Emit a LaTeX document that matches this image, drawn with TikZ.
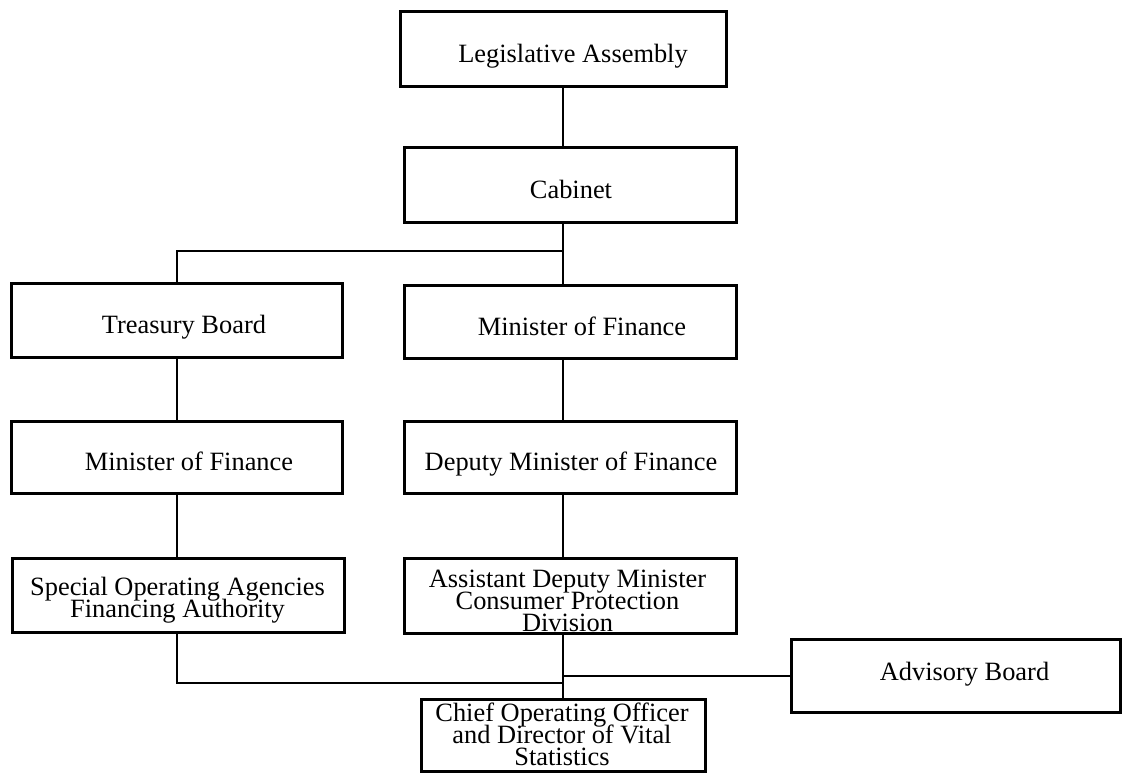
\documentclass[tikz,border=0pt]{standalone}
\usepackage{fontspec}
\setmainfont{Liberation Serif}
\usetikzlibrary{positioning}
\newcommand{\orgfont}{\fontsize{13.2pt}{11pt}\selectfont\lineskiplimit=-\maxdimen}
\tikzset{
orgbox/.style={draw, rectangle, line width=1.5pt, inner sep=0pt},
orgtext/.style={font=\orgfont, align=center, inner sep=0pt},
link/.style={line width=1pt}
}

\begin{document}
\begin{tikzpicture}[x=0.5pt, y=-0.5pt]
	\useasboundingbox (0,0) rectangle (1122,772);
	\node[orgbox, minimum width=163pt, minimum height=37.5pt] (la) at (563,48.5) {};
	\node[orgbox, minimum width=166pt, minimum height=37.5pt] (cab) at (570,184.5) {};
	\node[orgbox, minimum width=165.5pt, minimum height=37pt] (tb) at (176.5,320) {};
	\node[orgbox, minimum width=166pt, minimum height=36.5pt] (mf1) at (570,321.5) {};
	\node[orgbox, minimum width=165.5pt, minimum height=36pt] (mf2) at (176.5,457) {};
	\node[orgbox, minimum width=166pt, minimum height=36pt] (dmf) at (570,457) {};
	\node[orgbox, minimum width=165.7pt, minimum height=37pt] (soa) at (178.3,595) {};
	\node[orgbox, minimum width=166pt, minimum height=37.5pt] (adm) at (570,595.5) {};
	\node[orgbox, minimum width=142pt, minimum height=36pt] (coo) at (563,735) {};
	\node[orgbox, minimum width=164.5pt, minimum height=36.5pt] (ab) at (955.5,675.5) {};

	\node[orgtext, anchor=base] (la-t) at (573,62) {Legislative Assembly};
	\node[orgtext, anchor=base] (cab-t) at (571,198) {Cabinet};
	\node[orgtext, anchor=base] (tb-t) at (184,333) {Treasury Board};
	\node[orgtext, anchor=base] (mf1-t) at (582,335) {Minister of Finance};
	\node[orgtext, anchor=base] (mf2-t) at (189,470) {Minister of Finance};
	\node[orgtext, anchor=base] (dmf-t) at (571,470) {Deputy Minister of Finance};
	\node[orgtext] (soa-t) at (177.5,600) {Special Operating Agencies\\Financing Authority};
	\node[orgtext] (adm-t) at (567.5,600.5) {Assistant Deputy Minister\\Consumer Protection\\Division};
	\node[orgtext] (coo-t) at (562,734.5) {Chief Operating Officer\\and Director of Vital\\Statistics};
	\node[orgtext, anchor=base] (ab-t) at (964.5,680.5) {Advisory Board};

	\coordinate (junction) at (563,251);
	\coordinate (merge) at (563,683);
	\draw[link] (la.south) -- (la.south |- cab.north);
	\draw[link] (cab.south -| junction) -- (junction) -| (tb.north);
	\draw[link] (junction) -- (junction |- mf1.north);
	\draw[link] (tb.south) -- (mf2.north);
	\draw[link] (mf1.south -| junction) -- (junction |- dmf.north);
	\draw[link] (mf2.south) -- (mf2.south |- soa.north);
	\draw[link] (dmf.south -| junction) -- (junction |- adm.north);
	\draw[link] (adm.south -| junction) -- (junction |- coo.north);
	\draw[link] (soa.south -| mf2.south) |- (merge);
	\draw[link] (ab.west) -- (ab.west -| junction);
\end{tikzpicture}
\end{document}
